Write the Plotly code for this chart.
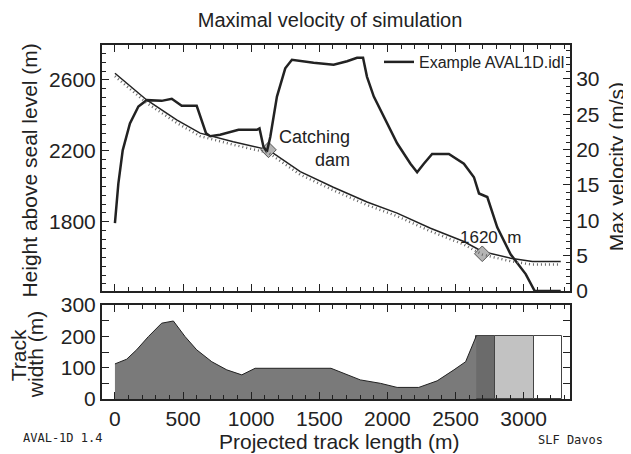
import numpy as np
import plotly.graph_objects as go

# terrain profile (projected track length m, height m)
terrain_x = [0, 233, 453, 625, 868, 1127, 1360, 1603, 1850, 2071, 2316, 2561, 2696, 2904, 3064, 3272]
terrain_h = [2638, 2487, 2375, 2300, 2252, 2206, 2083, 1995, 1912, 1849, 1764, 1689, 1633, 1595, 1576, 1576]

# maximal velocity along track (m, m/s)
vel_x = [0, 25, 57, 110, 172, 233, 343, 417, 490, 539, 600, 669, 699, 772, 907, 1042, 1061, 1090, 1115,
         1140, 1189, 1250, 1299, 1458, 1605, 1704, 1777, 1821, 1850, 1900, 1973, 2071, 2169, 2218, 2267,
         2328, 2451, 2561, 2635, 2672, 2733, 2806, 2904, 3015, 3081, 3272]
vel_v = [9.6, 15.2, 19.9, 23.7, 26.1, 27.0, 26.9, 27.2, 26.2, 26.2, 26.2, 22.3, 21.9, 22.1, 22.8, 22.8, 23.0,
         20.4, 19.7, 21.8, 27.5, 31.5, 32.7, 32.3, 32.0, 32.5, 33.0, 33.0, 30.3, 27.5, 24.7, 20.9, 18.0,
         16.8, 18.0, 19.4, 19.4, 18.0, 16.1, 13.8, 13.3, 9.0, 5.2, 2.4, 0.0, 0.0]

# marked points: catching dam and run-out point
mark_x = [1127, 2696]
mark_h = [2206, 1620]

# track width (m)
width_x = [0, 86, 159, 245, 343, 429, 515, 600, 711, 821, 931, 1029, 1586, 1679, 1801, 1949, 2071,
           2230, 2365, 2488, 2574, 2652]
width_w = [112, 127, 157, 199, 242, 249, 199, 157, 119, 93, 77, 98, 98, 82, 61, 50, 37, 37, 58, 93, 119, 201]

# deposition / run-out zone blocks
zone_edges = [2652, 2787, 3079, 3279]
zone_width = [200, 200, 200]
zone_colors = ['#6b6b6b', '#c2c2c2', '#ffffff']

FONT = 'Liberation Sans'
INK = '#222222'

fig = go.Figure()

# hatch under the terrain line (same data drawn on an axis shifted a few px)
fig.add_trace(go.Scatter(x=terrain_x, y=terrain_h, mode='lines', xaxis='x2', yaxis='y4',
                         line=dict(color='#666666', width=2.5, dash='1px,3px'), showlegend=False,
                         hoverinfo='skip'))
fig.add_trace(go.Scatter(x=terrain_x, y=terrain_h, mode='lines', xaxis='x2', yaxis='y2',
                         line=dict(color=INK, width=1.5), showlegend=False))
fig.add_trace(go.Scatter(x=vel_x, y=vel_v, mode='lines', xaxis='x2', yaxis='y3',
                         line=dict(color=INK, width=2.5), name='Example AVAL1D.idl'))
fig.add_trace(go.Scatter(x=mark_x, y=mark_h, mode='markers', xaxis='x2', yaxis='y2',
                         marker=dict(symbol='diamond', size=12, color='#b4b4b4',
                                     line=dict(color='#555555', width=1)), showlegend=False))

# track width area
fig.add_trace(go.Scatter(x=width_x, y=width_w, mode='lines', fill='tozeroy', fillcolor='#7a7a7a',
                         line=dict(color=INK, width=1), showlegend=False))
fig.add_trace(go.Bar(x=zone_edges[:-1], y=zone_width, width=np.diff(zone_edges), offset=0,
                     marker=dict(color=zone_colors, line=dict(color='#444444', width=1)),
                     showlegend=False))

ax_common = dict(showline=True, linewidth=2, linecolor=INK, ticks='inside', tickcolor=INK,
                 tickfont=dict(family=FONT, size=21, color=INK), zeroline=False, showgrid=False,
                 automargin=False)

# the page body adds an 8px offset, so the figure is 8px smaller than the window
fig.update_layout(
    width=623, height=446,
    margin=dict(l=94, r=61, t=37, b=55),
    paper_bgcolor='white', plot_bgcolor='white',
    font=dict(family=FONT, color=INK),
    bargap=0,
    title=dict(text='Maximal velocity of simulation', x=0.517, xanchor='center', y=0.973,
               yanchor='middle', font=dict(family=FONT, size=20, color=INK)),
    xaxis=dict(anchor='y', range=[-95, 3340], tick0=0, dtick=500, ticklen=7, mirror='ticks',
               minor=dict(dtick=100, ticklen=4, ticks='inside', tickcolor=INK), **ax_common),
    xaxis2=dict(anchor='y2', matches='x', range=[-95, 3340], tick0=0, dtick=500, ticklen=7,
                mirror='ticks', showticklabels=False,
                minor=dict(dtick=100, ticklen=4, ticks='inside', tickcolor=INK), **ax_common),
    yaxis=dict(domain=[0, 0.2655], range=[0, 300], dtick=100, ticklen=7, mirror='ticks',
               minor=dict(dtick=50, ticklen=7, ticks='inside', tickcolor=INK), **ax_common),
    yaxis2=dict(domain=[0.305, 1], anchor='x2', range=[1410, 2797], tick0=200, dtick=400, ticklen=7,
                minor=dict(dtick=50, ticklen=4, ticks='inside', tickcolor=INK), **ax_common),
    yaxis3=dict(overlaying='y2', anchor='x2', side='right', range=[0, 34.8], dtick=5, ticklen=7,
                minor=dict(dtick=1, ticklen=4, ticks='inside', tickcolor=INK), **ax_common),
    yaxis4=dict(overlaying='y2', anchor='x2', range=[1427, 2814], visible=False),
    legend=dict(x=1, xanchor='right', y=1, yanchor='top', bgcolor='rgba(0,0,0,0)',
                font=dict(family=FONT, size=16, color=INK), itemwidth=30),
)

annotations = [
    dict(text='Height above seal level (m)', x=-0.154, y=0.645, textangle=-90, font_size=21),
    dict(text='Max velocity (m/s)', x=1.1, y=0.657, textangle=-90, font_size=21),
    dict(text='Track', x=-0.179, y=0.124, textangle=-90, font_size=21),
    dict(text='width (m)', x=-0.143, y=0.124, textangle=-90, font_size=21),
    dict(text='Projected track length (m)', x=0.506, y=-0.12, font_size=21),
    dict(text='AVAL-1D 1.4', x=-0.085, y=-0.11, font=dict(family='DejaVu Sans Mono', size=12)),
    dict(text='SLF Davos', x=1.0, y=-0.116, font=dict(family='DejaVu Sans Mono', size=12)),
]
for a in annotations:
    a.setdefault('font', dict(family=FONT, size=a.pop('font_size', 20), color=INK))
    fig.add_annotation(xref='paper', yref='paper', showarrow=False, xanchor='center',
                       yanchor='middle', **a)

fig.add_annotation(text='Catching<br>dam', x=1191, y=2211, xref='x2', yref='y2', showarrow=False,
                   xanchor='left', align='right', font=dict(family=FONT, size=18, color=INK))
fig.add_annotation(text=f'{mark_h[1]}  m', x=2757, y=1710, xref='x2', yref='y2', showarrow=False,
                   font=dict(family=FONT, size=17, color=INK))

fig.write_html("out.html")
